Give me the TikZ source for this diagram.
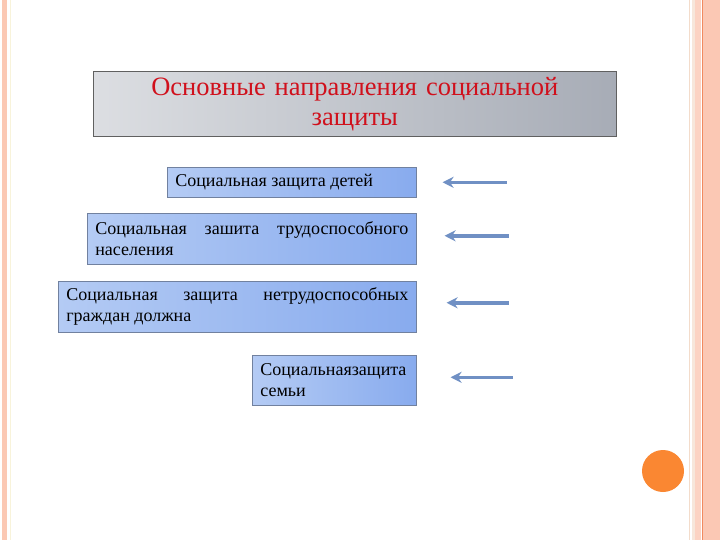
\documentclass[tikz,border=0pt]{standalone}
\usepackage{fontspec}
\setmainfont{Liberation Serif}
\usetikzlibrary{positioning,calc,arrows.meta}
\definecolor{stripsalmon}{HTML}{FBC8B4}
\definecolor{stripline}{HTML}{F08A60}
\definecolor{stripbeige}{HTML}{F3DCCB}
\definecolor{stripyellow}{HTML}{F8F3DA}
\definecolor{titleleft}{HTML}{DCDEE2}
\definecolor{titleright}{HTML}{A7ACB6}
\definecolor{titlered}{HTML}{D0101C}
\definecolor{boxleft}{HTML}{B4CBF4}
\definecolor{boxmid}{HTML}{D6E4FB}
\definecolor{boxright}{HTML}{88ABEE}
\definecolor{boxline}{HTML}{71819F}
\definecolor{arrowblue}{HTML}{7090C4}
\definecolor{dotorange}{HTML}{FA8732}

\begin{document}
\begin{tikzpicture}[
		x=1pt, y=-1pt,
		font=\fontsize{18}{21}\selectfont,
		% Style cho khung tiêu đề
		titlebox/.style={draw=gray!75!black, line width=0.6pt,
			left color=titleleft, right color=titleright,
			anchor=north west, minimum width=523pt, minimum height=65pt,
			text width=507pt, align=center, inner sep=0pt,
			text=titlered, font=\fontsize{26.5}{30}\selectfont},
		% Style cho các ô hướng
		dirbox/.style={draw=boxline, line width=0.6pt,
			left color=boxleft, middle color=boxmid, right color=boxright,
			anchor=north west, inner xsep=8pt, inner ysep=0pt,
			align=justify},
		% Style cho mũi tên
		pointer/.style={-{Stealth[length=11pt,width=11pt]},
			line width=3.4pt, arrowblue}
		]
		\useasboundingbox (0,0) rectangle (720,540);
		\fill[white] (0,0) rectangle (720,540);
		
		% --- VIỀN TRANG ---
		\fill[stripsalmon] (2,0) rectangle (7,540);
		\draw[stripyellow, line width=1pt] (10,0) -- (10,540);
		\draw[stripbeige, line width=1.2pt] (689.5,0) -- (689.5,540);
		\fill[stripbeige!70] (692,0) rectangle (695,540);
		\fill[stripsalmon!80] (695,0) rectangle (701,540);
		\draw[stripline, line width=1pt] (702,0) -- (702,540);
		\fill[stripsalmon] (703,0) rectangle (720,540);
		\fill[dotorange] (663,471) circle (21);
		
		% --- TIÊU ĐỀ ---
		\node[titlebox] (title) at (93,71) {Основные направления социальной\\защиты};
		
		% --- CÁC Ô ---
		\node[dirbox, minimum width=249pt, minimum height=30pt, text width=233pt]
			(children) at (167,167) {Социальная защита детей};
		\node[dirbox, minimum width=329pt, minimum height=51pt, text width=313pt]
			(ablebodied) at (87,213) {Социальная зашита трудоспособного\linebreak населения};
		\node[dirbox, minimum width=358pt, minimum height=51pt, text width=342pt]
			(disabled) at (58,281) {Социальная защита нетрудоспособных\linebreak граждан должна};
		\node[dirbox, minimum width=164pt, minimum height=50pt, text width=148pt, align=left]
			(family) at (252,355) {Социальнаязащита\\семьи};
		
		% --- MŨI TÊN ---
		\draw[pointer] ($(children.east)+(90,0)$) -- ++(-64,0);
		\draw[pointer] ($(ablebodied.east)+(92,-3)$) -- ++(-64,0);
		\draw[pointer] ($(disabled.east)+(92,-4)$) -- ++(-62,0);
		\draw[pointer] ($(family.east)+(96,-3)$) -- ++(-62,0);
		
	\end{tikzpicture}
\end{document}
